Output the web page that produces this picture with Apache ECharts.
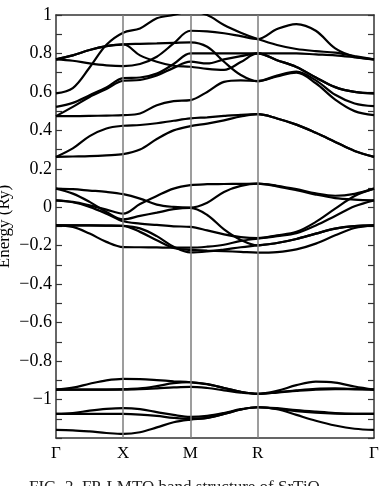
<!DOCTYPE html>
<html><head><meta charset="utf-8">
<script src="https://cdn.jsdelivr.net/npm/echarts@6/dist/echarts.min.js"></script>
<style>html,body{margin:0;padding:0;background:#fff}#c{width:382px;height:486px}</style>
</head><body><div id="c"></div>
<script>
// k-path sample points: Γ-X, X-M, M-R (0.5 each), R-Γ (0.866)
const kPoints = [0, 0.125, 0.25, 0.375, 0.5, 0.625, 0.75, 0.875, 1.0, 1.125, 1.25, 1.375, 1.5, 1.6443, 1.7887, 1.933, 2.0773, 2.2217, 2.366];
const symPositions = [0, 0.5, 1.0, 1.5, 2.366];
const symLabels = ['Γ', 'X', 'M', 'R', 'Γ'];

// conduction bands
const bandC1 = [0.262, 0.264, 0.266, 0.270, 0.276, 0.300, 0.355, 0.400, 0.422, 0.435, 0.452, 0.472, 0.484, 0.462, 0.430, 0.387, 0.340, 0.293, 0.262];
const bandC2 = [0.262, 0.306, 0.370, 0.410, 0.424, 0.428, 0.437, 0.450, 0.462, 0.468, 0.475, 0.481, 0.484, 0.462, 0.430, 0.387, 0.340, 0.293, 0.262];
const bandC3 = [0.474, 0.474, 0.475, 0.477, 0.479, 0.488, 0.531, 0.552, 0.557, 0.600, 0.652, 0.660, 0.656, 0.680, 0.700, 0.645, 0.560, 0.500, 0.479];
const bandCT = [0.592, 0.620, 0.727, 0.845, 0.908, 0.930, 0.983, 1.000, 1.020, 1.000, 0.948, 0.908, 0.875, 0.844, 0.823, 0.812, 0.804, 0.786, 0.769];
const bandCM1 = [0.769, 0.762, 0.748, 0.738, 0.734, 0.745, 0.783, 0.852, 0.918, 0.915, 0.905, 0.890, 0.875, 0.927, 0.953, 0.918, 0.826, 0.783, 0.769];
const bandCM2 = [0.769, 0.790, 0.818, 0.838, 0.847, 0.850, 0.852, 0.855, 0.858, 0.835, 0.757, 0.688, 0.656, 0.685, 0.705, 0.660, 0.585, 0.540, 0.526];
const bandCM3 = [0.769, 0.790, 0.818, 0.838, 0.847, 0.790, 0.757, 0.736, 0.731, 0.720, 0.715, 0.755, 0.800, 0.800, 0.800, 0.795, 0.790, 0.780, 0.769];
const bandCM4 = [0.474, 0.522, 0.574, 0.615, 0.658, 0.662, 0.685, 0.725, 0.757, 0.748, 0.769, 0.786, 0.800, 0.765, 0.730, 0.675, 0.625, 0.600, 0.592];
const bandCM5 = [0.522, 0.543, 0.583, 0.623, 0.672, 0.675, 0.695, 0.745, 0.800, 0.800, 0.800, 0.800, 0.800, 0.765, 0.730, 0.675, 0.625, 0.600, 0.592];

// O 2p valence bands
const bandV1 = [0.097, 0.094, 0.087, 0.080, 0.068, 0.045, 0.014, 0.002, -0.002, 0.024, 0.080, 0.111, 0.123, 0.109, 0.089, 0.066, 0.048, 0.040, 0.036];
const bandV2 = [0.097, 0.071, 0.028, -0.024, -0.063, -0.045, -0.028, -0.010, -0.003, -0.040, -0.115, -0.170, -0.198, -0.186, -0.165, -0.137, -0.111, -0.098, -0.094];
const bandV3 = [0.036, 0.028, 0.010, -0.012, -0.033, 0.017, 0.059, 0.097, 0.115, 0.120, 0.121, 0.122, 0.123, 0.112, 0.094, 0.072, 0.060, 0.070, 0.097];
const bandV4 = [0.036, 0.026, 0.002, -0.033, -0.073, -0.085, -0.092, -0.099, -0.102, -0.120, -0.141, -0.155, -0.160, -0.146, -0.128, -0.076, -0.007, 0.059, 0.097];
const bandV5 = [-0.094, -0.094, -0.094, -0.095, -0.097, -0.128, -0.172, -0.212, -0.222, -0.225, -0.228, -0.232, -0.236, -0.233, -0.219, -0.189, -0.146, -0.108, -0.094];
const bandV6 = [-0.094, -0.094, -0.094, -0.095, -0.097, -0.110, -0.150, -0.205, -0.235, -0.230, -0.220, -0.208, -0.198, -0.186, -0.165, -0.137, -0.111, -0.098, -0.094];
const bandV7 = [-0.094, -0.102, -0.137, -0.180, -0.207, -0.208, -0.209, -0.210, -0.210, -0.205, -0.195, -0.175, -0.163, -0.150, -0.135, -0.095, -0.045, 0.005, 0.036];

// semicore bands
const bandS1 = [-0.948, -0.938, -0.918, -0.900, -0.892, -0.894, -0.899, -0.905, -0.910, -0.920, -0.940, -0.960, -0.970, -0.955, -0.925, -0.907, -0.912, -0.932, -0.948];
const bandS2 = [-0.948, -0.948, -0.948, -0.948, -0.946, -0.942, -0.930, -0.915, -0.910, -0.920, -0.940, -0.960, -0.970, -0.962, -0.952, -0.944, -0.942, -0.945, -0.948];
const bandS3 = [-0.948, -0.948, -0.948, -0.948, -0.948, -0.946, -0.942, -0.937, -0.934, -0.940, -0.952, -0.964, -0.970, -0.964, -0.955, -0.948, -0.946, -0.947, -0.948];
const bandS4 = [-1.075, -1.070, -1.058, -1.049, -1.045, -1.050, -1.065, -1.080, -1.090, -1.085, -1.070, -1.050, -1.040, -1.045, -1.055, -1.063, -1.070, -1.074, -1.075];
const bandS5 = [-1.075, -1.075, -1.075, -1.075, -1.075, -1.078, -1.085, -1.095, -1.100, -1.095, -1.075, -1.052, -1.040, -1.048, -1.060, -1.068, -1.073, -1.075, -1.075];
const bandS6 = [-1.158, -1.160, -1.166, -1.174, -1.179, -1.170, -1.145, -1.118, -1.104, -1.095, -1.075, -1.052, -1.040, -1.050, -1.080, -1.110, -1.135, -1.152, -1.158];

const bands = [bandC1, bandC2, bandC3, bandCT, bandCM1, bandCM2, bandCM3, bandCM4, bandCM5,
  bandV1, bandV2, bandV3, bandV4, bandV5, bandV6, bandV7,
  bandS1, bandS2, bandS3, bandS4, bandS5, bandS6];

const serif = 'Liberation Serif';
const fmtY = v => {
  const r = Math.round(v * 10) / 10;
  if (Math.abs(r + 1.2) < 1e-6) return '';
  return String(r).replace('-', '\u2212');
};
const fmtX = v => {
  const i = symPositions.findIndex(p => Math.abs(p - v) < 1e-6);
  return i >= 0 ? symLabels[i] : '';
};

const series = [{
  type: 'line', data: [], silent: true, z: 1,
  markLine: {
    silent: true, symbol: ['none', 'none'], label: { show: false },
    lineStyle: { color: '#7c7c7c', width: 1.5, type: 'solid' },
    data: symPositions.slice(1, 4).map(p => ({ xAxis: p }))
  }
}];
bands.forEach(b => {
  series.push({
    type: 'line', z: 3, showSymbol: false, smooth: 0.35, silent: true, clip: true,
    data: kPoints.map((k, i) => [k, b[i]]),
    lineStyle: { color: '#000', width: 2.2 }
  });
});

const chart = echarts.init(document.getElementById('c'), null, { renderer: 'canvas' });
chart.setOption({
  animation: false,
  backgroundColor: '#fff',
  grid: { left: 56, right: 8, top: 15, bottom: 48, containLabel: false, outerBoundsMode: 'none' },
  title: {
    text: 'FIG. 2. FP-LMTO band structure of SrTiO\u2083',
    left: 24, top: 474,
    textStyle: { fontFamily: serif, fontSize: 17, fontWeight: 'normal', color: '#222' }
  },
  xAxis: [{
    type: 'value', min: 0, max: 2.366, position: 'bottom',
    axisLine: { show: true, onZero: false, lineStyle: { color: '#333', width: 1.5 } },
    axisTick: { show: false }, splitLine: { show: false },
    axisLabel: { customValues: symPositions, formatter: fmtX, margin: 7,
      fontFamily: serif, fontSize: 17, color: '#000' }
  }, {
    type: 'value', min: 0, max: 2.366, position: 'top',
    axisLine: { show: true, onZero: false, lineStyle: { color: '#333', width: 1.5 } },
    axisTick: { show: false }, splitLine: { show: false }, axisLabel: { show: false }
  }],
  yAxis: [{
    type: 'value', min: -1.2, max: 1.0, interval: 0.2, position: 'left',
    name: 'Energy (Ry)', nameLocation: 'middle', nameGap: 43, nameMoveOverlap: false,
    nameTextStyle: { fontFamily: serif, fontSize: 17, color: '#000' },
    axisLine: { show: true, onZero: false, lineStyle: { color: '#333', width: 1.5 } },
    axisTick: { show: true, inside: true, length: 6, lineStyle: { color: '#333', width: 1.2 } },
    minorTick: { show: true, splitNumber: 2, length: 6, lineStyle: { color: '#333', width: 1.2 } },
    splitLine: { show: false },
    axisLabel: { formatter: fmtY, margin: 4, fontFamily: serif, fontSize: 18, color: '#000' }
  }, {
    type: 'value', min: -1.2, max: 1.0, interval: 0.2, position: 'right',
    axisLine: { show: true, onZero: false, lineStyle: { color: '#333', width: 1.5 } },
    axisTick: { show: true, inside: true, length: 6, lineStyle: { color: '#333', width: 1.2 } },
    minorTick: { show: true, splitNumber: 2, length: 6, lineStyle: { color: '#333', width: 1.2 } },
    splitLine: { show: false }, axisLabel: { show: false }
  }],
  series: series
});
</script>
</body></html>
